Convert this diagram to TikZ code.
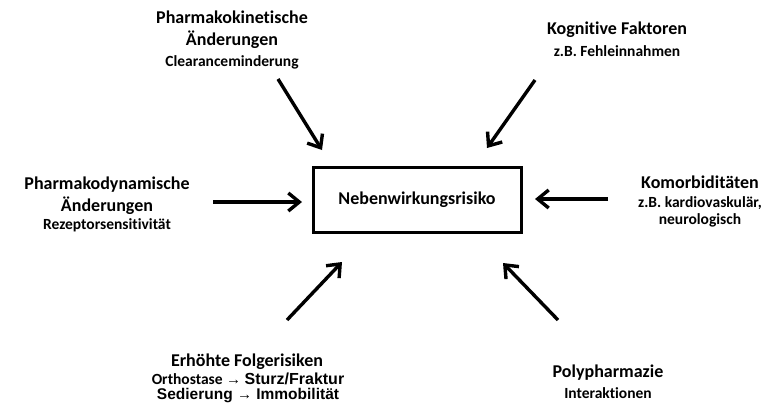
\documentclass[tikz,border=0pt]{standalone}
\usepackage{fontspec}
\setmainfont{Carlito}[Ligatures=CommonOff]
\newfontfamily\arialfont{Liberation Sans}
\usetikzlibrary{arrows.meta}

\begin{document}
\begin{tikzpicture}[x=1pt,y=-1pt,font=\bfseries,
    titel/.style={font=\fontsize{18}{22}\selectfont\bfseries, align=center, inner sep=0pt},
    unter/.style={font=\fontsize{15.5}{17.5}\selectfont\bfseries, align=center, inner sep=0pt},
    pfeil/.style={line width=3.4pt, -{Straight Barb[length=11pt, width=18pt, line width=3.4pt]}}]

    % Rahmen des Bildes
    \useasboundingbox (0,0) rectangle (776,408);

    % Zentrales Kaestchen
    \node[draw, line width=3pt, minimum width=208pt, minimum height=65pt,
          font=\fontsize{18}{22}\selectfont\bfseries] (risiko) at (417,199.5) {Nebenwirkungsrisiko};

    % Einflussfaktoren oben
    \node[titel] (pk) at (232,30) {Pharmakokinetische\\Änderungen};
    \node[unter] (pk-sub) at (232,62) {Clearanceminderung};
    \node[titel] (kog) at (617,30) {Kognitive Faktoren};
    \node[unter] (kog-sub) at (617,51) {z.B. Fehleinnahmen};

    % Einflussfaktoren seitlich
    \node[titel] (pd) at (107,196) {Pharmakodynamische\\Änderungen};
    \node[unter] (pd-sub) at (107,225) {Rezeptorsensitivität};
    \node[titel] (kom) at (700,182) {Komorbiditäten};
    \node[unter] (kom-sub) at (700,212) {z.B. kardiovaskulär,\\neurologisch};

    % Einflussfaktoren unten
    \node[titel] (folge) at (247,362) {Erhöhte Folgerisiken};
    \node[unter, font=\fontsize{15.5}{15.5}\selectfont\bfseries] (folge-sub) at (248,388)
        {Orthostase {\arialfont\fontsize{15}{13}\selectfont→} {\arialfont\fontsize{16}{15.5}\selectfont\bfseries Sturz/Fraktur}\\
         {\arialfont\fontsize{15.5}{15.5}\selectfont\bfseries Sedierung {\fontsize{15}{13}\selectfont→} Immobilität}};
    \node[titel] (poly) at (608,373) {Polypharmazie};
    \node[unter] (poly-sub) at (608,393) {Interaktionen};

    % Anfangs- und Endpunkte der Pfeile
    \coordinate (pk-a) at (278,79);   \coordinate (pk-e) at (322,150);
    \coordinate (kog-a) at (535,80);  \coordinate (kog-e) at (487,148);
    \coordinate (pd-a) at (213,202);  \coordinate (pd-e) at (302,202);
    \coordinate (kom-a) at (608,199); \coordinate (kom-e) at (535,199);
    \coordinate (folge-s) at (287,320); \coordinate (folge-e) at (342,262);
    \coordinate (poly-a) at (558,320);  \coordinate (poly-e) at (503,263);

    % Pfeile zum Kaestchen
    \draw[pfeil] (pk-a) -- (pk-e);
    \draw[pfeil] (kog-a) -- (kog-e);
    \draw[pfeil] (pd-a) -- (pd-e);
    \draw[pfeil] (kom-a) -- (kom-e);
    \draw[pfeil] (folge-s) -- (folge-e);
    \draw[pfeil] (poly-a) -- (poly-e);

\end{tikzpicture}
\end{document}
